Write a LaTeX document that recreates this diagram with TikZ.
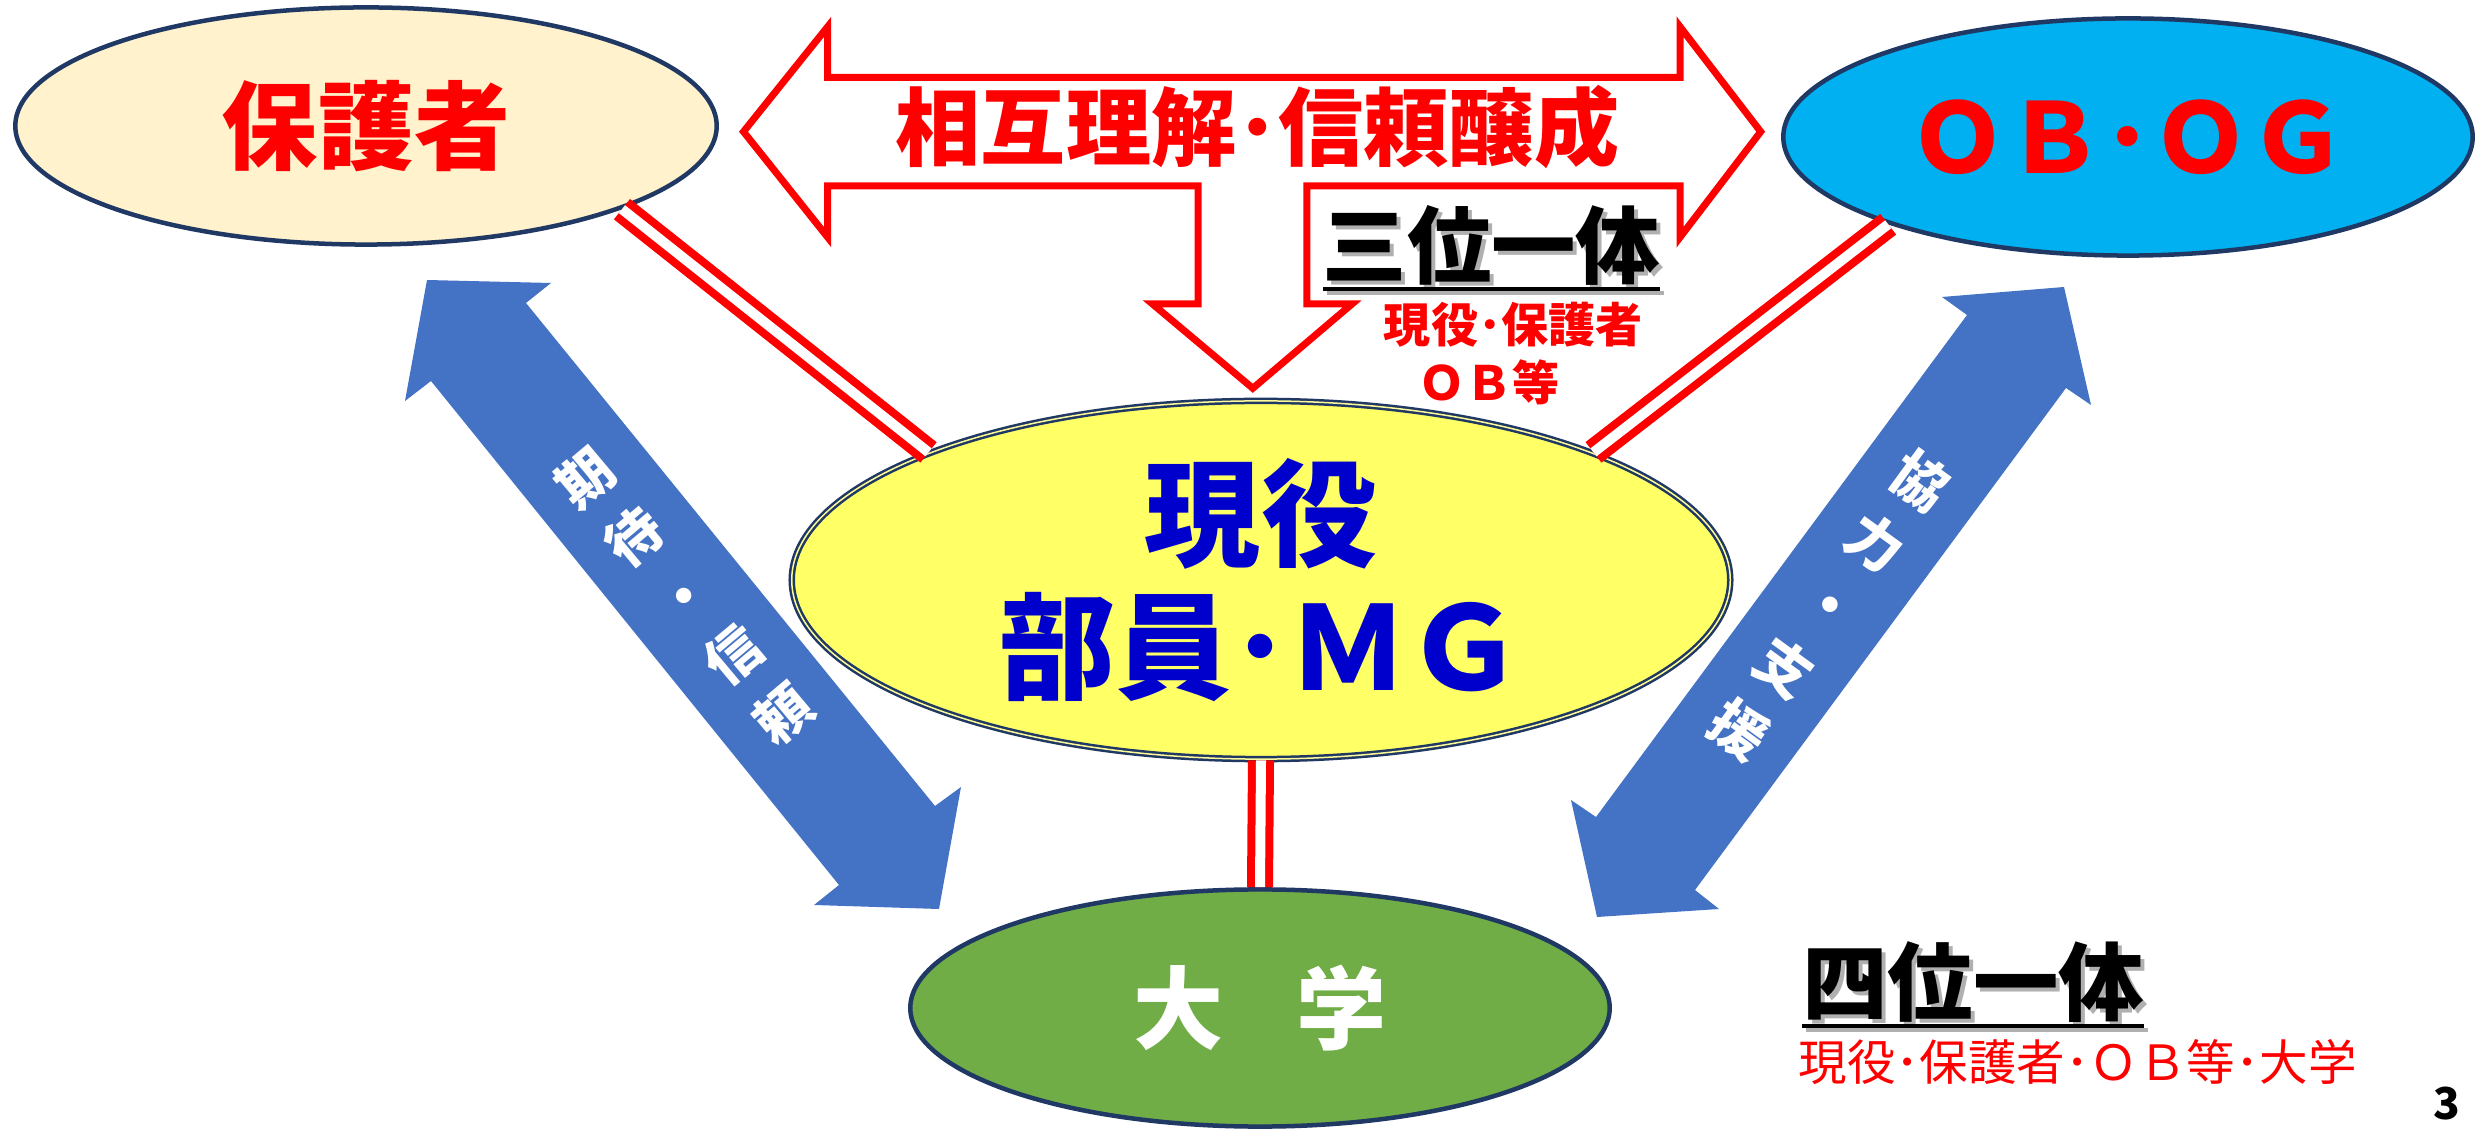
\documentclass[tikz,border=0pt]{standalone}
\usepackage{fontspec}
\newfontfamily\jp{Noto Sans CJK JP}
\usetikzlibrary{shapes.geometric}
\definecolor{navy}{HTML}{1F3864}
\definecolor{cream}{HTML}{FFF2CC}
\definecolor{cyanb}{HTML}{00B0F0}
\definecolor{yell}{HTML}{FFFF66}
\definecolor{grn}{HTML}{70AD47}
\definecolor{abl}{HTML}{4472C4}
\definecolor{dblue}{HTML}{0000CC}
\definecolor{shadowgray}{HTML}{B0B0B0}
\begin{document}
\begin{tikzpicture}[x=0.01cm,y=-0.01cm,
  oval/.style={ellipse,inner sep=0pt,draw=navy,line width=0.045cm},
  redline/.style={draw=red,line width=0.08cm,double=white,double distance=0.10cm},
  bigarrow/.style={draw=red,fill=white,line width=0.07cm,line join=miter},
  bluearrow/.style={fill=abl},
  fs/.style={font=\jp\bfseries\fontsize{#1}{#1}\selectfont},
  uline/.style={line width=0.045cm}
]
\useasboundingbox (0,0) rectangle (2478,1131);
\fill[white] (0,0) rectangle (2478,1131);

% blue double arrows
\fill[bluearrow] (427,280) -- (551,283) -- (526,303) -- (935,806) -- (961,787) -- (939,909)
  -- (814,905) -- (839,885) -- (431,381) -- (405,401) -- cycle;
\fill[bluearrow] (2064,287) -- (2091,405) -- (2066,388) -- (1695,890) -- (1719,909)
  -- (1597,917) -- (1571,800) -- (1596,817) -- (1967,315) -- (1942,297) -- cycle;
\node[rotate=40,align=center,text=white,inner sep=0pt,
  font=\jp\bfseries\fontsize{15.6pt}{21.9pt}\selectfont] (kitai) at (684,596)
  {期\\待\\・\\信\\頼};
\node[rotate=-36,align=center,text=white,inner sep=0pt,
  font=\jp\bfseries\fontsize{15.8pt}{21.9pt}\selectfont] (kyoryoku) at (1830,605)
  {協\\力\\・\\支\\援};

% big red arrow
\draw[bigarrow] (743.5,131.7) -- (827.7,26.7) -- (827.7,77.3) -- (1680,77.3) -- (1680,26.7)
  -- (1760.7,131.7) -- (1680,237.3) -- (1680,186) -- (1306.8,186) -- (1306.8,304)
  -- (1352,304) -- (1252.8,388.3) -- (1152.5,304) -- (1198,304) -- (1198,186)
  -- (827.7,186) -- (827.7,237.3) -- cycle;
\node[fs=24.2pt,text=red,inner sep=0pt] (sogo) at (1257.5,127.5) {相互理解･信頼醸成};

% ellipses
\node[oval,fill=cream,minimum width=7.01cm,minimum height=2.37cm,
  fs=27.3pt,text=red] (hogo) at (366,126) {保護者};
\node[oval,fill=cyanb,minimum width=6.89cm,minimum height=2.37cm,
  fs=27.6pt,text=red] (obog) at (2128,137) {ＯＢ･ＯＧ};
\node[ellipse,inner sep=0pt,draw=navy,line width=0.025cm,double=yellow!40!white,double distance=0.015cm,
  fill=yell,minimum width=9.38cm,minimum height=3.58cm,align=center,
  font=\jp\bfseries\fontsize{33pt}{37.8pt}\selectfont,text=dblue] (main) at (1261,580)
  {現役\\部員･ＭＧ};
\node[oval,fill=grn,minimum width=6.99cm,minimum height=2.37cm,
  fs=25.6pt,text=white] (univ) at (1260,1008) {大\hspace{0.8em}学};

% connectors
\draw[redline] (hogo.-18.6) -- (main.159);
\draw[redline] (main.21) -- (obog.-160.7);
\draw[redline] (main.-90) -- (univ.90);

% 三位一体
\node[fs=24pt,text=shadowgray,inner sep=0pt] (sanS) at (1495.5,249.5) {三位一体};
\draw[uline,shadowgray] (1327,293) -- (1664,293);
\node[fs=24pt,text=black,inner sep=0pt] (san) at (1491.5,245.5) {三位一体};
\draw[uline,black] (1323,289) -- (1660,289);
\node[fs=13.4pt,text=red,inner sep=0pt] (san1) at (1513.5,325) {現役･保護者};
\node[fs=13.4pt,text=red,inner sep=0pt] (san2) at (1489,382.5) {ＯＢ等};

% 四位一体
\node[fs=24.3pt,text=shadowgray,inner sep=0pt] (yonS) at (1977,986.5) {四位一体};
\draw[uline,shadowgray] (1806,1030) -- (2148,1030);
\node[fs=24.3pt,text=black,inner sep=0pt] (yon) at (1973,982.5) {四位一体};
\draw[uline,black] (1802,1026) -- (2144,1026);
\node[font=\jp\fontsize{13.8pt}{13.8pt}\selectfont,text=red,inner sep=0pt] (yon1) at (2077.5,1062.5)
  {現役･保護者･ＯＢ等･大学};

\node[fs=12.5pt,text=black,inner sep=0pt] (pg) at (2447,1104) {3};
\end{tikzpicture}
\end{document}
